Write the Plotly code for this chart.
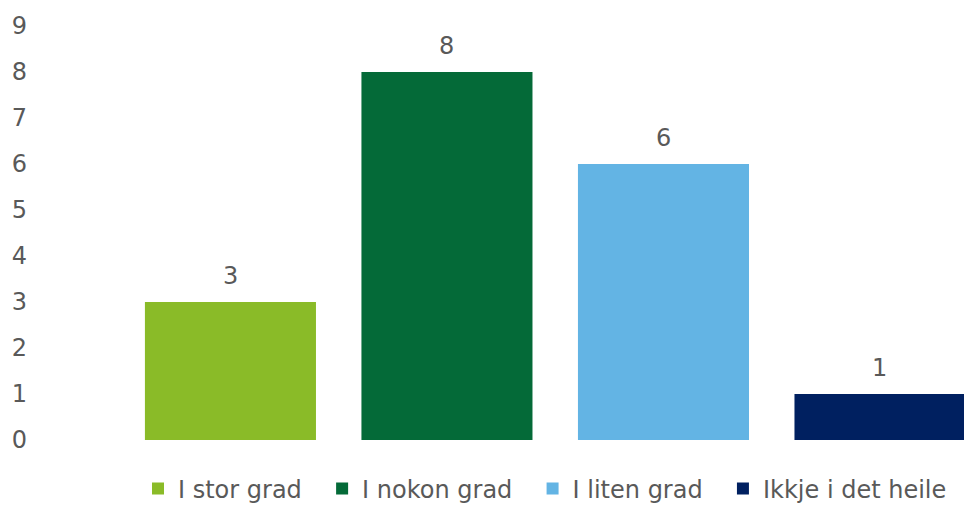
import plotly.graph_objects as go

categories = ["I stor grad", "I nokon grad", "I liten grad", "Ikkje i det heile"]
values = [3, 8, 6, 1]
colors = ["#8ABB28", "#046A38", "#63B4E4", "#002060"]
y_ticks = list(range(0, 10))

font_family = "Verdana, DejaVu Sans, sans-serif"
text_color = "#595959"
fs = 24
pad = "\u00a0\u00a0"

fig = go.Figure()
for cat, val, col in zip(categories, values, colors):
    fig.add_trace(go.Bar(
        x=[cat], y=[val], name=cat + pad, marker_color=col, width=0.79,
        marker_line_width=0, hoverinfo="skip",
    ))

for cat, val in zip(categories, values):
    fig.add_annotation(x=cat, y=val, text=str(val), showarrow=False,
                       yshift=26, font=dict(family=font_family, size=fs, color=text_color))

fig.update_layout(
    width=964, height=505,
    margin=dict(l=28, r=0, t=26, b=65),
    paper_bgcolor="white", plot_bgcolor="white",
    barmode="overlay",
    font=dict(family=font_family, size=fs, color=text_color),
    xaxis=dict(type="category", categoryorder="array", categoryarray=categories,
               range=[-0.935, 3.388], showticklabels=False, showgrid=False,
               zeroline=False, showline=False, ticks=""),
    yaxis=dict(range=[0, 9], tickvals=y_ticks, showgrid=False, zeroline=False,
               showline=False, ticks="", tickfont=dict(size=fs, color=text_color)),
    legend=dict(orientation="h", xref="container", yref="container",
                x=138 / 964, xanchor="left", y=(505 - 489) / 505, yanchor="middle",
                font=dict(size=fs, color=text_color), itemclick=False),
    showlegend=True,
)

fig.write_html("out.html", config={"displayModeBar": False},
               post_script="document.body.style.margin='0';")
